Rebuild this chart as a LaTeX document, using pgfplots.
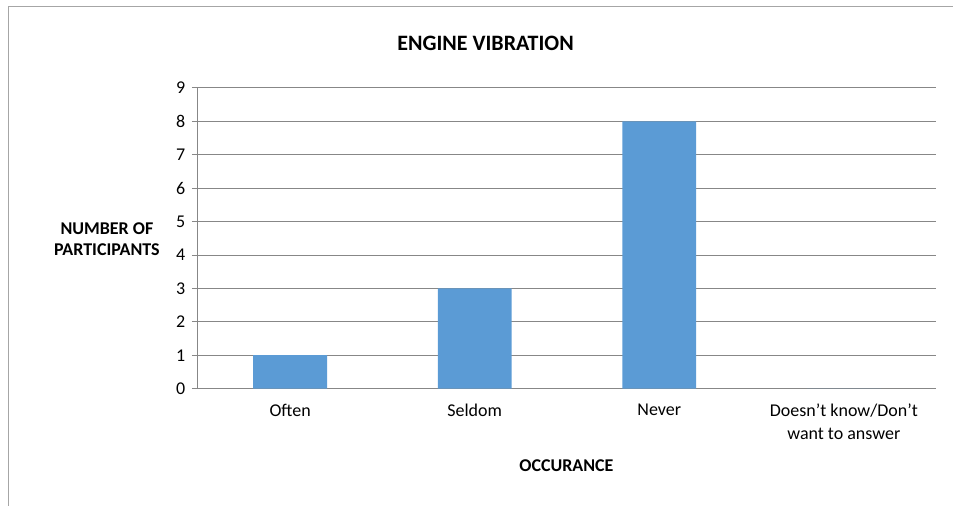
\documentclass[border=0pt]{standalone}
\usepackage{fontspec}
\setmainfont{Carlito}
\usepackage{pgfplots}
\pgfplotsset{compat=1.18}
\definecolor{barblue}{HTML}{5B9BD5}
\definecolor{gridgray}{HTML}{878787}
\definecolor{framegray}{HTML}{A6A6A6}
\begin{document}
\begin{tikzpicture}[x=1pt,y=1pt]
\path (0,0) rectangle (954,506);
\draw[framegray, line width=1.8pt] (8.5,0) -- (8.5,499.5) -- (954,499.5);
\begin{axis}[
  at={(198pt,117pt)}, anchor=south west, scale only axis,
  width=739pt, height=301pt,
  xmin=-0.5, xmax=3.5, ymin=0, ymax=9,
  xtick={0,1,2,3},
  xticklabels={Often,Seldom,Never,{Doesn’t know/Don’t\\want to answer}},
  xticklabel style={align=center, font=\fontsize{18}{23}\selectfont, yshift=-6pt},
  xtick style={draw=none},
  extra x ticks={-0.5,0.5,1.5,2.5,3.5}, extra x tick labels={},
  extra x tick style={tick style={draw=gridgray, line width=0.9pt}, major tick length=6pt, tick align=outside, grid=none},
  ytick={0,...,9},
  yticklabel style={font=\fontsize{18}{21}\selectfont, xshift=-3pt},
  /pgf/number format/assume math mode=true,
  ytick style={draw=gridgray, line width=0.9pt}, major tick length=6pt, tick align=outside,
  ymajorgrids, grid style={gridgray, line width=0.9pt},
  axis x line*=bottom, axis y line*=left,
  axis line style={gridgray, line width=0.9pt, -},
]
\addplot[ybar, fill=barblue, draw=none, bar width=0.4] coordinates {(0,1) (1,3) (2,8) (3,0)};
\end{axis}
\node[font=\bfseries\fontsize{22}{26}\selectfont] at (486,463) {ENGINE VIBRATION};
\node[font=\bfseries\fontsize{18}{21}\selectfont, align=center] at (107,267) {NUMBER OF\\PARTICIPANTS};
\node[font=\bfseries\fontsize{18}{21}\selectfont] at (567,40) {OCCURANCE};
\end{tikzpicture}
\end{document}
